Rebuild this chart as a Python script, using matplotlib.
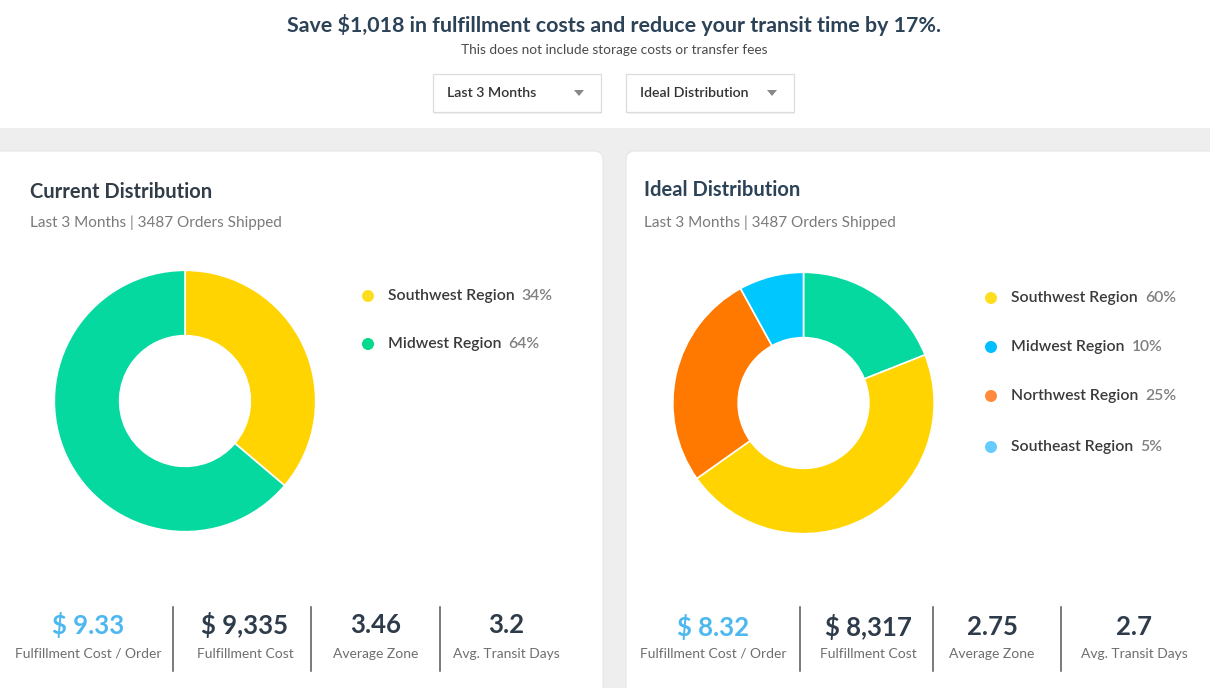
import matplotlib
matplotlib.use("Agg")
import matplotlib.pyplot as plt
from matplotlib.patches import FancyBboxPatch, Rectangle, Circle, Polygon

# ---------------- data ----------------
title = "Save $1,018 in fulfillment costs and reduce your transit time by 17%."
subtitle = "This does not include storage costs or transfer fees"
dropdowns = ["Last 3 Months", "Ideal Distribution"]

panel_titles = ["Current Distribution", "Ideal Distribution"]
panel_sub = "Last 3 Months | 3487 Orders Shipped"

# donut slice sizes (clockwise from top)
current_vals = [36.2, 63.8]
current_cols = ["#FFD400", "#05D9A0"]
ideal_vals = [19.0, 46.2, 26.8, 8.0]
ideal_cols = ["#05D9A0", "#FFD400", "#FF7800", "#00C8FF"]

# legends
current_leg_names = ["Southwest Region", "Midwest Region"]
current_leg_pcts = ["34%", "64%"]
current_leg_cols = ["#FFDD1F", "#05D98C"]
ideal_leg_names = ["Southwest Region", "Midwest Region", "Northwest Region", "Southeast Region"]
ideal_leg_pcts = ["60%", "10%", "25%", "5%"]
ideal_leg_cols = ["#FFDD1F", "#00BFFF", "#FF8A3D", "#66CCFF"]

# stats
stat_labels = ["Fulfillment Cost / Order", "Fulfillment Cost", "Average Zone", "Avg. Transit Days"]
current_stats = ["$ 9.33", "$ 9,335", "3.46", "3.2"]
ideal_stats = ["$ 8.32", "$ 8,317", "2.75", "2.7"]

# ---------------- figure ----------------
W, H = 1210, 688
fig = plt.figure(figsize=(W / 100, H / 100), dpi=100)
fig.patch.set_facecolor("white")
ax = fig.add_axes([0, 0, 1, 1])
ax.set_xlim(0, W)
ax.set_ylim(H, 0)
ax.axis("off")

FONT = "Lato"
DARK = "#2E3B4A"
NAVY = "#2C4257"
GREY = "#7A7A7A"
BLUE = "#4DB8F0"

# background bands
ax.add_patch(Rectangle((0, 128), W, H - 128, facecolor="#EEEEEE", edgecolor="none", zorder=0))
# cards
ax.add_patch(FancyBboxPatch((-20, 151), 623, 600, boxstyle="round,pad=0,rounding_size=9",
                            facecolor="white", edgecolor="#E6E6E6", lw=0.8, zorder=1))
ax.add_patch(FancyBboxPatch((626, 151), 620, 600, boxstyle="round,pad=0,rounding_size=9",
                            facecolor="white", edgecolor="#E6E6E6", lw=0.8, zorder=1))

# header
ax.text(614, 25, title, ha="center", va="center", fontsize=15.4, fontweight="bold",
        color=NAVY, family=FONT)
ax.text(614, 50, subtitle, ha="center", va="center", fontsize=9.8, color="#4A4A4A", family=FONT)

# dropdowns
for x0, label in zip([433, 626], dropdowns):
    ax.add_patch(Rectangle((x0 + 1, 76), 168, 38, facecolor="#F2F2F2", edgecolor="none", zorder=1))
    ax.add_patch(Rectangle((x0, 74), 168, 38, facecolor="white", edgecolor="#DCDCDC", lw=0.9, zorder=2))
    ax.text(x0 + 14, 93, label, ha="left", va="center", fontsize=10.2, fontweight="semibold",
            color="#333333", family=FONT, zorder=3)
    tx = x0 + 146
    ax.add_patch(Polygon([[tx - 5, 90], [tx + 5, 90], [tx, 96]], closed=True,
                         facecolor="#888888", edgecolor="none", zorder=3))

# panel titles
for x0, t, c, ty in zip([30, 644], panel_titles, ["#323D48", NAVY], [192, 190]):
    ax.text(x0, ty, t, ha="left", va="center", fontsize=14.5, fontweight="bold", color=c, family=FONT)
    ax.text(x0, 223, panel_sub, ha="left", va="center", fontsize=11, color=GREY, family=FONT)

# legends
def legend(x_dot, ys, names, pcts, cols):
    inv = ax.transData.inverted()
    for y, n, p, c in zip(ys, names, pcts, cols):
        ax.add_patch(Circle((x_dot, y), 6, facecolor=c, edgecolor="none", zorder=3))
        t = ax.text(x_dot + 20, y, n, ha="left", va="center", fontsize=11.3, fontweight="semibold",
                    color="#3A3A3A", family=FONT, zorder=3)
        fig.canvas.draw()
        x_end = t.get_window_extent().x1
        xd = inv.transform((x_end, 0))[0]
        ax.text(xd + 7, y, p, ha="left", va="center", fontsize=11.3, fontweight="semibold",
                color="#808080", family=FONT, zorder=3)

legend(368, [296, 344], current_leg_names, current_leg_pcts, current_leg_cols)
legend(991, [298, 347, 396, 447], ideal_leg_names, ideal_leg_pcts, ideal_leg_cols)

# stats
def stats(centers, divs, vals, vy, ly):
    for i, (cx, v, l) in enumerate(zip(centers, vals, stat_labels)):
        ax.text(cx, vy, v, ha="center", va="center", fontsize=18.5, fontweight="bold",
                color=BLUE if i == 0 else DARK, family=FONT, zorder=3)
        ax.text(cx, ly, l, ha="center", va="center", fontsize=10, color="#6E6E6E",
                family=FONT, zorder=3)
    for dx in divs:
        ax.plot([dx, dx], [607, 671], color="#555555", lw=1.1, zorder=3)

stats([88, 245, 376, 506], [173, 311, 440], current_stats, 625, 654)
stats([713, 868, 992, 1134], [800, 933, 1061], ideal_stats, 627, 654)

# donuts
def donut(cx, cy, r, vals, cols):
    axp = fig.add_axes([(cx - r) / W, 1 - (cy + r) / H, 2 * r / W, 2 * r / H])
    axp.pie(vals, colors=cols, startangle=90, counterclock=False, radius=1,
            wedgeprops=dict(width=0.5, edgecolor="white", linewidth=1.2))
    axp.set_xlim(-1.01, 1.01)
    axp.set_ylim(-1.01, 1.01)
    axp.set_aspect("equal")
    axp.axis("off")

donut(185, 401, 132, current_vals, current_cols)
donut(803.5, 403, 132, ideal_vals, ideal_cols)

fig.savefig("out.png", dpi=100, facecolor="white")
